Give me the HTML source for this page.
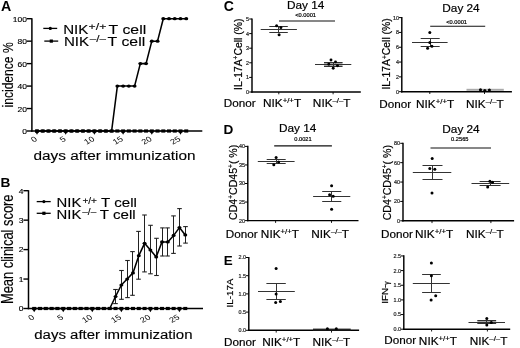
<!DOCTYPE html>
<html><head><meta charset="utf-8"><style>
html,body{margin:0;padding:0;background:#fff;width:520px;height:348px;overflow:hidden}
svg{display:block;will-change:transform}
text{font-family:"Liberation Sans",sans-serif}
</style></head><body>
<svg width="520" height="348" viewBox="0 0 520 348">
<rect width="520" height="348" fill="#fff"/>
<text transform="translate(1.00,10.80)" font-size="14.2" text-anchor="start" fill="#000" font-weight="bold">A</text>
<line x1="31.90" y1="18.20" x2="31.90" y2="131.75" stroke="#000" stroke-width="1.5"/>
<line x1="31.15" y1="131.00" x2="202.30" y2="131.00" stroke="#000" stroke-width="1.5"/>
<line x1="26.80" y1="131.00" x2="31.90" y2="131.00" stroke="#000" stroke-width="1.4"/>
<text transform="translate(27.00,134.00) scale(1.35,1)" font-size="6.3" text-anchor="end" fill="#000" stroke="#000" stroke-width="0.12">0</text>
<line x1="26.80" y1="108.54" x2="31.90" y2="108.54" stroke="#000" stroke-width="1.4"/>
<text transform="translate(27.00,111.54) scale(1.35,1)" font-size="6.3" text-anchor="end" fill="#000" stroke="#000" stroke-width="0.12">20</text>
<line x1="26.80" y1="86.08" x2="31.90" y2="86.08" stroke="#000" stroke-width="1.4"/>
<text transform="translate(27.00,89.08) scale(1.35,1)" font-size="6.3" text-anchor="end" fill="#000" stroke="#000" stroke-width="0.12">40</text>
<line x1="26.80" y1="63.62" x2="31.90" y2="63.62" stroke="#000" stroke-width="1.4"/>
<text transform="translate(27.00,66.62) scale(1.35,1)" font-size="6.3" text-anchor="end" fill="#000" stroke="#000" stroke-width="0.12">60</text>
<line x1="26.80" y1="41.16" x2="31.90" y2="41.16" stroke="#000" stroke-width="1.4"/>
<text transform="translate(27.00,44.16) scale(1.35,1)" font-size="6.3" text-anchor="end" fill="#000" stroke="#000" stroke-width="0.12">80</text>
<line x1="26.80" y1="18.70" x2="31.90" y2="18.70" stroke="#000" stroke-width="1.4"/>
<text transform="translate(27.00,21.70) scale(1.35,1)" font-size="6.3" text-anchor="end" fill="#000" stroke="#000" stroke-width="0.12">100</text>
<polygon points="35.40,132.00 38.60,132.00 37.00,134.80" fill="#000"/>
<text transform="translate(37.80,140.30) scale(1.25,1) rotate(-33)" font-size="7.4" text-anchor="end" fill="#000">0</text>
<polygon points="64.10,132.00 67.30,132.00 65.70,134.80" fill="#000"/>
<text transform="translate(66.50,140.30) scale(1.25,1) rotate(-33)" font-size="7.4" text-anchor="end" fill="#000">5</text>
<polygon points="92.80,132.00 96.00,132.00 94.40,134.80" fill="#000"/>
<text transform="translate(95.20,140.30) scale(1.25,1) rotate(-33)" font-size="7.4" text-anchor="end" fill="#000">10</text>
<polygon points="121.50,132.00 124.70,132.00 123.10,134.80" fill="#000"/>
<text transform="translate(123.90,140.30) scale(1.25,1) rotate(-33)" font-size="7.4" text-anchor="end" fill="#000">15</text>
<polygon points="150.20,132.00 153.40,132.00 151.80,134.80" fill="#000"/>
<text transform="translate(152.60,140.30) scale(1.25,1) rotate(-33)" font-size="7.4" text-anchor="end" fill="#000">20</text>
<polygon points="178.90,132.00 182.10,132.00 180.50,134.80" fill="#000"/>
<text transform="translate(181.30,140.30) scale(1.25,1) rotate(-33)" font-size="7.4" text-anchor="end" fill="#000">25</text>
<text transform="translate(33.50,160.00) scale(1.28,1)" font-size="12.0" text-anchor="start" fill="#000" stroke="#000" stroke-width="0.12">days after immunization</text>
<text transform="translate(12.60,107.50) scale(1.25,1) rotate(-90)" font-size="12.1" text-anchor="start" fill="#000" stroke="#000" stroke-width="0.12">incidence %</text>
<line x1="37.00" y1="131.00" x2="186.24" y2="131.00" stroke="#000" stroke-width="1.2"/>
<polyline points="37.00,131.00 42.74,131.00 48.48,131.00 54.22,131.00 59.96,131.00 65.70,131.00 71.44,131.00 77.18,131.00 82.92,131.00 88.66,131.00 94.40,131.00 100.14,131.00 105.88,131.00 111.62,131.00 117.36,86.08 123.10,86.08 128.84,86.08 134.58,86.08 140.32,63.62 146.06,63.62 151.80,41.16 157.54,41.16 163.28,18.70 169.02,18.70 174.76,18.70 180.50,18.70 186.24,18.70" fill="none" stroke="#000" stroke-width="1.55" stroke-linejoin="round"/>
<ellipse cx="37.00" cy="131.00" rx="2.0" ry="1.6" fill="#000"/>
<ellipse cx="42.74" cy="131.00" rx="2.0" ry="1.6" fill="#000"/>
<ellipse cx="48.48" cy="131.00" rx="2.0" ry="1.6" fill="#000"/>
<ellipse cx="54.22" cy="131.00" rx="2.0" ry="1.6" fill="#000"/>
<ellipse cx="59.96" cy="131.00" rx="2.0" ry="1.6" fill="#000"/>
<ellipse cx="65.70" cy="131.00" rx="2.0" ry="1.6" fill="#000"/>
<ellipse cx="71.44" cy="131.00" rx="2.0" ry="1.6" fill="#000"/>
<ellipse cx="77.18" cy="131.00" rx="2.0" ry="1.6" fill="#000"/>
<ellipse cx="82.92" cy="131.00" rx="2.0" ry="1.6" fill="#000"/>
<ellipse cx="88.66" cy="131.00" rx="2.0" ry="1.6" fill="#000"/>
<ellipse cx="94.40" cy="131.00" rx="2.0" ry="1.6" fill="#000"/>
<ellipse cx="100.14" cy="131.00" rx="2.0" ry="1.6" fill="#000"/>
<ellipse cx="105.88" cy="131.00" rx="2.0" ry="1.6" fill="#000"/>
<ellipse cx="111.62" cy="131.00" rx="2.0" ry="1.6" fill="#000"/>
<ellipse cx="117.36" cy="86.08" rx="2.0" ry="1.6" fill="#000"/>
<ellipse cx="123.10" cy="86.08" rx="2.0" ry="1.6" fill="#000"/>
<ellipse cx="128.84" cy="86.08" rx="2.0" ry="1.6" fill="#000"/>
<ellipse cx="134.58" cy="86.08" rx="2.0" ry="1.6" fill="#000"/>
<ellipse cx="140.32" cy="63.62" rx="2.0" ry="1.6" fill="#000"/>
<ellipse cx="146.06" cy="63.62" rx="2.0" ry="1.6" fill="#000"/>
<ellipse cx="151.80" cy="41.16" rx="2.0" ry="1.6" fill="#000"/>
<ellipse cx="157.54" cy="41.16" rx="2.0" ry="1.6" fill="#000"/>
<ellipse cx="163.28" cy="18.70" rx="2.0" ry="1.6" fill="#000"/>
<ellipse cx="169.02" cy="18.70" rx="2.0" ry="1.6" fill="#000"/>
<ellipse cx="174.76" cy="18.70" rx="2.0" ry="1.6" fill="#000"/>
<ellipse cx="180.50" cy="18.70" rx="2.0" ry="1.6" fill="#000"/>
<ellipse cx="186.24" cy="18.70" rx="2.0" ry="1.6" fill="#000"/>
<rect x="35.00" y="129.40" width="4.0" height="3.2" fill="#000"/>
<rect x="40.74" y="129.40" width="4.0" height="3.2" fill="#000"/>
<rect x="46.48" y="129.40" width="4.0" height="3.2" fill="#000"/>
<rect x="52.22" y="129.40" width="4.0" height="3.2" fill="#000"/>
<rect x="57.96" y="129.40" width="4.0" height="3.2" fill="#000"/>
<rect x="63.70" y="129.40" width="4.0" height="3.2" fill="#000"/>
<rect x="69.44" y="129.40" width="4.0" height="3.2" fill="#000"/>
<rect x="75.18" y="129.40" width="4.0" height="3.2" fill="#000"/>
<rect x="80.92" y="129.40" width="4.0" height="3.2" fill="#000"/>
<rect x="86.66" y="129.40" width="4.0" height="3.2" fill="#000"/>
<rect x="92.40" y="129.40" width="4.0" height="3.2" fill="#000"/>
<rect x="98.14" y="129.40" width="4.0" height="3.2" fill="#000"/>
<rect x="103.88" y="129.40" width="4.0" height="3.2" fill="#000"/>
<rect x="109.62" y="129.40" width="4.0" height="3.2" fill="#000"/>
<rect x="115.36" y="129.40" width="4.0" height="3.2" fill="#000"/>
<rect x="121.10" y="129.40" width="4.0" height="3.2" fill="#000"/>
<rect x="126.84" y="129.40" width="4.0" height="3.2" fill="#000"/>
<rect x="132.58" y="129.40" width="4.0" height="3.2" fill="#000"/>
<rect x="138.32" y="129.40" width="4.0" height="3.2" fill="#000"/>
<rect x="144.06" y="129.40" width="4.0" height="3.2" fill="#000"/>
<rect x="149.80" y="129.40" width="4.0" height="3.2" fill="#000"/>
<rect x="155.54" y="129.40" width="4.0" height="3.2" fill="#000"/>
<rect x="161.28" y="129.40" width="4.0" height="3.2" fill="#000"/>
<rect x="167.02" y="129.40" width="4.0" height="3.2" fill="#000"/>
<rect x="172.76" y="129.40" width="4.0" height="3.2" fill="#000"/>
<rect x="178.50" y="129.40" width="4.0" height="3.2" fill="#000"/>
<rect x="184.24" y="129.40" width="4.0" height="3.2" fill="#000"/>
<line x1="43.30" y1="28.40" x2="57.20" y2="28.40" stroke="#000" stroke-width="1.3"/>
<circle cx="50.30" cy="28.40" r="1.6" fill="#000"/>
<line x1="44.30" y1="41.10" x2="58.20" y2="41.10" stroke="#000" stroke-width="1.3"/>
<rect x="49.70" y="39.50" width="3.2" height="3.2" fill="#000"/>
<text transform="translate(63.20,33.90) scale(1.22,1)" font-size="12.4" text-anchor="start" fill="#000" stroke="#000" stroke-width="0.12">NIK</text>
<text transform="translate(88.60,30.00) scale(1.36,1)" font-size="9.0" text-anchor="start" fill="#000" stroke="#000" stroke-width="0.12">+/+</text>
<text transform="translate(108.60,33.90) scale(1.28,1)" font-size="12.4" text-anchor="start" fill="#000" stroke="#000" stroke-width="0.12">T cell</text>
<text transform="translate(63.90,46.40) scale(1.22,1)" font-size="12.4" text-anchor="start" fill="#000" stroke="#000" stroke-width="0.12">NIK</text>
<text transform="translate(89.80,42.40) scale(1.3,1)" font-size="9.0" text-anchor="start" fill="#000" stroke="#000" stroke-width="0.12">&#8211;/&#8211;</text>
<text transform="translate(107.60,46.40) scale(1.28,1)" font-size="12.4" text-anchor="start" fill="#000" stroke="#000" stroke-width="0.12">T cell</text>
<text transform="translate(0.60,187.20)" font-size="13.7" text-anchor="start" fill="#000" font-weight="bold">B</text>
<line x1="28.50" y1="190.20" x2="28.50" y2="309.25" stroke="#000" stroke-width="1.5"/>
<line x1="27.75" y1="308.50" x2="203.00" y2="308.50" stroke="#000" stroke-width="1.5"/>
<line x1="23.40" y1="308.50" x2="28.50" y2="308.50" stroke="#000" stroke-width="1.4"/>
<text transform="translate(23.40,311.30) scale(1.35,1)" font-size="6.3" text-anchor="end" fill="#000" stroke="#000" stroke-width="0.12">0</text>
<line x1="23.40" y1="279.05" x2="28.50" y2="279.05" stroke="#000" stroke-width="1.4"/>
<text transform="translate(23.40,281.85) scale(1.35,1)" font-size="6.3" text-anchor="end" fill="#000" stroke="#000" stroke-width="0.12">1</text>
<line x1="23.40" y1="249.60" x2="28.50" y2="249.60" stroke="#000" stroke-width="1.4"/>
<text transform="translate(23.40,252.40) scale(1.35,1)" font-size="6.3" text-anchor="end" fill="#000" stroke="#000" stroke-width="0.12">2</text>
<line x1="23.40" y1="220.15" x2="28.50" y2="220.15" stroke="#000" stroke-width="1.4"/>
<text transform="translate(23.40,222.95) scale(1.35,1)" font-size="6.3" text-anchor="end" fill="#000" stroke="#000" stroke-width="0.12">3</text>
<line x1="23.40" y1="190.70" x2="28.50" y2="190.70" stroke="#000" stroke-width="1.4"/>
<text transform="translate(23.40,193.50) scale(1.35,1)" font-size="6.3" text-anchor="end" fill="#000" stroke="#000" stroke-width="0.12">4</text>
<polygon points="32.60,309.50 35.80,309.50 34.20,312.30" fill="#000"/>
<text transform="translate(35.00,318.50) scale(1.25,1) rotate(-33)" font-size="7.4" text-anchor="end" fill="#000">0</text>
<polygon points="61.65,309.50 64.85,309.50 63.25,312.30" fill="#000"/>
<text transform="translate(64.05,318.50) scale(1.25,1) rotate(-33)" font-size="7.4" text-anchor="end" fill="#000">5</text>
<polygon points="90.70,309.50 93.90,309.50 92.30,312.30" fill="#000"/>
<text transform="translate(93.10,318.50) scale(1.25,1) rotate(-33)" font-size="7.4" text-anchor="end" fill="#000">10</text>
<polygon points="119.75,309.50 122.95,309.50 121.35,312.30" fill="#000"/>
<text transform="translate(122.15,318.50) scale(1.25,1) rotate(-33)" font-size="7.4" text-anchor="end" fill="#000">15</text>
<polygon points="148.80,309.50 152.00,309.50 150.40,312.30" fill="#000"/>
<text transform="translate(151.20,318.50) scale(1.25,1) rotate(-33)" font-size="7.4" text-anchor="end" fill="#000">20</text>
<polygon points="177.85,309.50 181.05,309.50 179.45,312.30" fill="#000"/>
<text transform="translate(180.25,318.50) scale(1.25,1) rotate(-33)" font-size="7.4" text-anchor="end" fill="#000">25</text>
<text transform="translate(34.20,338.70) scale(1.25,1)" font-size="12.0" text-anchor="start" fill="#000" stroke="#000" stroke-width="0.12">days after immunization</text>
<text transform="translate(12.90,304.10) scale(1.25,1) rotate(-90)" font-size="12.9" text-anchor="start" fill="#000" stroke="#000" stroke-width="0.12">Mean clinical score</text>
<line x1="34.20" y1="308.50" x2="185.26" y2="308.50" stroke="#000" stroke-width="1.2"/>
<line x1="115.50" y1="289.50" x2="115.50" y2="303.60" stroke="#222" stroke-width="1.0"/>
<line x1="113.20" y1="289.50" x2="117.80" y2="289.50" stroke="#222" stroke-width="1.1"/>
<line x1="113.20" y1="303.60" x2="117.80" y2="303.60" stroke="#222" stroke-width="1.1"/>
<line x1="121.50" y1="270.50" x2="121.50" y2="299.30" stroke="#222" stroke-width="1.0"/>
<line x1="119.20" y1="270.50" x2="123.80" y2="270.50" stroke="#222" stroke-width="1.1"/>
<line x1="119.20" y1="299.30" x2="123.80" y2="299.30" stroke="#222" stroke-width="1.1"/>
<line x1="127.50" y1="260.50" x2="127.50" y2="297.60" stroke="#222" stroke-width="1.0"/>
<line x1="125.20" y1="260.50" x2="129.80" y2="260.50" stroke="#222" stroke-width="1.1"/>
<line x1="125.20" y1="297.60" x2="129.80" y2="297.60" stroke="#222" stroke-width="1.1"/>
<line x1="132.50" y1="251.60" x2="132.50" y2="295.30" stroke="#222" stroke-width="1.0"/>
<line x1="130.20" y1="251.60" x2="134.80" y2="251.60" stroke="#222" stroke-width="1.1"/>
<line x1="130.20" y1="295.30" x2="134.80" y2="295.30" stroke="#222" stroke-width="1.1"/>
<line x1="138.50" y1="231.40" x2="138.50" y2="279.20" stroke="#222" stroke-width="1.0"/>
<line x1="136.20" y1="231.40" x2="140.80" y2="231.40" stroke="#222" stroke-width="1.1"/>
<line x1="136.20" y1="279.20" x2="140.80" y2="279.20" stroke="#222" stroke-width="1.1"/>
<line x1="144.50" y1="215.00" x2="144.50" y2="271.90" stroke="#222" stroke-width="1.0"/>
<line x1="142.20" y1="215.00" x2="146.80" y2="215.00" stroke="#222" stroke-width="1.1"/>
<line x1="142.20" y1="271.90" x2="146.80" y2="271.90" stroke="#222" stroke-width="1.1"/>
<line x1="150.50" y1="225.30" x2="150.50" y2="273.80" stroke="#222" stroke-width="1.0"/>
<line x1="148.20" y1="225.30" x2="152.80" y2="225.30" stroke="#222" stroke-width="1.1"/>
<line x1="148.20" y1="273.80" x2="152.80" y2="273.80" stroke="#222" stroke-width="1.1"/>
<line x1="156.50" y1="238.30" x2="156.50" y2="275.50" stroke="#222" stroke-width="1.0"/>
<line x1="154.20" y1="238.30" x2="158.80" y2="238.30" stroke="#222" stroke-width="1.1"/>
<line x1="154.20" y1="275.50" x2="158.80" y2="275.50" stroke="#222" stroke-width="1.1"/>
<line x1="162.50" y1="227.90" x2="162.50" y2="256.00" stroke="#222" stroke-width="1.0"/>
<line x1="160.20" y1="227.90" x2="164.80" y2="227.90" stroke="#222" stroke-width="1.1"/>
<line x1="160.20" y1="256.00" x2="164.80" y2="256.00" stroke="#222" stroke-width="1.1"/>
<line x1="167.50" y1="227.90" x2="167.50" y2="256.00" stroke="#222" stroke-width="1.0"/>
<line x1="165.20" y1="227.90" x2="169.80" y2="227.90" stroke="#222" stroke-width="1.1"/>
<line x1="165.20" y1="256.00" x2="169.80" y2="256.00" stroke="#222" stroke-width="1.1"/>
<line x1="173.50" y1="215.90" x2="173.50" y2="253.40" stroke="#222" stroke-width="1.0"/>
<line x1="171.20" y1="215.90" x2="175.80" y2="215.90" stroke="#222" stroke-width="1.1"/>
<line x1="171.20" y1="253.40" x2="175.80" y2="253.40" stroke="#222" stroke-width="1.1"/>
<line x1="179.50" y1="208.60" x2="179.50" y2="246.00" stroke="#222" stroke-width="1.0"/>
<line x1="177.20" y1="208.60" x2="181.80" y2="208.60" stroke="#222" stroke-width="1.1"/>
<line x1="177.20" y1="246.00" x2="181.80" y2="246.00" stroke="#222" stroke-width="1.1"/>
<line x1="185.50" y1="226.60" x2="185.50" y2="243.10" stroke="#222" stroke-width="1.0"/>
<line x1="183.20" y1="226.60" x2="187.80" y2="226.60" stroke="#222" stroke-width="1.1"/>
<line x1="183.20" y1="243.10" x2="187.80" y2="243.10" stroke="#222" stroke-width="1.1"/>
<polyline points="34.20,308.50 40.01,308.50 45.82,308.50 51.63,308.50 57.44,308.50 63.25,308.50 69.06,308.50 74.87,308.50 80.68,308.50 86.49,308.50 92.30,308.50 98.11,308.50 103.92,308.50 109.73,308.50 115.54,296.50 121.35,285.00 127.16,279.00 132.97,272.90 138.78,255.70 144.59,243.30 150.40,250.00 156.21,256.90 162.02,241.90 167.83,241.90 173.64,235.40 179.45,227.60 185.26,234.90" fill="none" stroke="#000" stroke-width="1.55" stroke-linejoin="round"/>
<ellipse cx="34.20" cy="308.50" rx="2.0" ry="1.6" fill="#000"/>
<ellipse cx="40.01" cy="308.50" rx="2.0" ry="1.6" fill="#000"/>
<ellipse cx="45.82" cy="308.50" rx="2.0" ry="1.6" fill="#000"/>
<ellipse cx="51.63" cy="308.50" rx="2.0" ry="1.6" fill="#000"/>
<ellipse cx="57.44" cy="308.50" rx="2.0" ry="1.6" fill="#000"/>
<ellipse cx="63.25" cy="308.50" rx="2.0" ry="1.6" fill="#000"/>
<ellipse cx="69.06" cy="308.50" rx="2.0" ry="1.6" fill="#000"/>
<ellipse cx="74.87" cy="308.50" rx="2.0" ry="1.6" fill="#000"/>
<ellipse cx="80.68" cy="308.50" rx="2.0" ry="1.6" fill="#000"/>
<ellipse cx="86.49" cy="308.50" rx="2.0" ry="1.6" fill="#000"/>
<ellipse cx="92.30" cy="308.50" rx="2.0" ry="1.6" fill="#000"/>
<ellipse cx="98.11" cy="308.50" rx="2.0" ry="1.6" fill="#000"/>
<ellipse cx="103.92" cy="308.50" rx="2.0" ry="1.6" fill="#000"/>
<ellipse cx="109.73" cy="308.50" rx="2.0" ry="1.6" fill="#000"/>
<ellipse cx="115.54" cy="296.50" rx="2.0" ry="1.6" fill="#000"/>
<ellipse cx="121.35" cy="285.00" rx="2.0" ry="1.6" fill="#000"/>
<ellipse cx="127.16" cy="279.00" rx="2.0" ry="1.6" fill="#000"/>
<ellipse cx="132.97" cy="272.90" rx="2.0" ry="1.6" fill="#000"/>
<ellipse cx="138.78" cy="255.70" rx="2.0" ry="1.6" fill="#000"/>
<ellipse cx="144.59" cy="243.30" rx="2.0" ry="1.6" fill="#000"/>
<ellipse cx="150.40" cy="250.00" rx="2.0" ry="1.6" fill="#000"/>
<ellipse cx="156.21" cy="256.90" rx="2.0" ry="1.6" fill="#000"/>
<ellipse cx="162.02" cy="241.90" rx="2.0" ry="1.6" fill="#000"/>
<ellipse cx="167.83" cy="241.90" rx="2.0" ry="1.6" fill="#000"/>
<ellipse cx="173.64" cy="235.40" rx="2.0" ry="1.6" fill="#000"/>
<ellipse cx="179.45" cy="227.60" rx="2.0" ry="1.6" fill="#000"/>
<ellipse cx="185.26" cy="234.90" rx="2.0" ry="1.6" fill="#000"/>
<rect x="32.20" y="306.90" width="4.0" height="3.2" fill="#000"/>
<rect x="38.01" y="306.90" width="4.0" height="3.2" fill="#000"/>
<rect x="43.82" y="306.90" width="4.0" height="3.2" fill="#000"/>
<rect x="49.63" y="306.90" width="4.0" height="3.2" fill="#000"/>
<rect x="55.44" y="306.90" width="4.0" height="3.2" fill="#000"/>
<rect x="61.25" y="306.90" width="4.0" height="3.2" fill="#000"/>
<rect x="67.06" y="306.90" width="4.0" height="3.2" fill="#000"/>
<rect x="72.87" y="306.90" width="4.0" height="3.2" fill="#000"/>
<rect x="78.68" y="306.90" width="4.0" height="3.2" fill="#000"/>
<rect x="84.49" y="306.90" width="4.0" height="3.2" fill="#000"/>
<rect x="90.30" y="306.90" width="4.0" height="3.2" fill="#000"/>
<rect x="96.11" y="306.90" width="4.0" height="3.2" fill="#000"/>
<rect x="101.92" y="306.90" width="4.0" height="3.2" fill="#000"/>
<rect x="107.73" y="306.90" width="4.0" height="3.2" fill="#000"/>
<rect x="113.54" y="306.90" width="4.0" height="3.2" fill="#000"/>
<rect x="119.35" y="306.90" width="4.0" height="3.2" fill="#000"/>
<rect x="125.16" y="306.90" width="4.0" height="3.2" fill="#000"/>
<rect x="130.97" y="306.90" width="4.0" height="3.2" fill="#000"/>
<rect x="136.78" y="306.90" width="4.0" height="3.2" fill="#000"/>
<rect x="142.59" y="306.90" width="4.0" height="3.2" fill="#000"/>
<rect x="148.40" y="306.90" width="4.0" height="3.2" fill="#000"/>
<rect x="154.21" y="306.90" width="4.0" height="3.2" fill="#000"/>
<rect x="160.02" y="306.90" width="4.0" height="3.2" fill="#000"/>
<rect x="165.83" y="306.90" width="4.0" height="3.2" fill="#000"/>
<rect x="171.64" y="306.90" width="4.0" height="3.2" fill="#000"/>
<rect x="177.45" y="306.90" width="4.0" height="3.2" fill="#000"/>
<rect x="183.26" y="306.90" width="4.0" height="3.2" fill="#000"/>
<line x1="36.70" y1="201.60" x2="50.70" y2="201.60" stroke="#000" stroke-width="1.3"/>
<circle cx="43.90" cy="201.60" r="1.6" fill="#000"/>
<line x1="36.70" y1="213.30" x2="50.70" y2="213.30" stroke="#000" stroke-width="1.3"/>
<rect x="42.30" y="211.70" width="3.2" height="3.2" fill="#000"/>
<text transform="translate(56.60,207.40) scale(1.2,1)" font-size="12.4" text-anchor="start" fill="#000" stroke="#000" stroke-width="0.12">NIK</text>
<text transform="translate(82.40,203.60) scale(1.22,1)" font-size="8.3" text-anchor="start" fill="#000" stroke="#000" stroke-width="0.12">+/+</text>
<text transform="translate(101.00,207.40) scale(1.22,1)" font-size="12.4" text-anchor="start" fill="#000" stroke="#000" stroke-width="0.12">T cell</text>
<text transform="translate(56.60,219.10) scale(1.2,1)" font-size="12.4" text-anchor="start" fill="#000" stroke="#000" stroke-width="0.12">NIK</text>
<text transform="translate(82.20,214.80) scale(1.22,1)" font-size="8.3" text-anchor="start" fill="#000" stroke="#000" stroke-width="0.12">&#8211;/&#8211;</text>
<text transform="translate(99.80,219.10) scale(1.22,1)" font-size="12.4" text-anchor="start" fill="#000" stroke="#000" stroke-width="0.12">T cell</text>
<text transform="translate(223.80,11.00)" font-size="14.0" text-anchor="start" fill="#000" font-weight="bold">C</text>
<line x1="252.00" y1="18.40" x2="252.00" y2="92.70" stroke="#000" stroke-width="1.45"/>
<line x1="251.30" y1="92.00" x2="360.80" y2="92.00" stroke="#000" stroke-width="1.45"/>
<line x1="249.20" y1="92.00" x2="252.00" y2="92.00" stroke="#000" stroke-width="1.0"/>
<text transform="translate(249.10,93.90)" font-size="5.4" text-anchor="end" fill="#222" stroke="#222" stroke-width="0.2">0</text>
<line x1="249.20" y1="77.40" x2="252.00" y2="77.40" stroke="#000" stroke-width="1.0"/>
<text transform="translate(249.10,79.30)" font-size="5.4" text-anchor="end" fill="#222" stroke="#222" stroke-width="0.2">1</text>
<line x1="249.20" y1="62.80" x2="252.00" y2="62.80" stroke="#000" stroke-width="1.0"/>
<text transform="translate(249.10,64.70)" font-size="5.4" text-anchor="end" fill="#222" stroke="#222" stroke-width="0.2">2</text>
<line x1="249.20" y1="48.20" x2="252.00" y2="48.20" stroke="#000" stroke-width="1.0"/>
<text transform="translate(249.10,50.10)" font-size="5.4" text-anchor="end" fill="#222" stroke="#222" stroke-width="0.2">3</text>
<line x1="249.20" y1="33.60" x2="252.00" y2="33.60" stroke="#000" stroke-width="1.0"/>
<text transform="translate(249.10,35.50)" font-size="5.4" text-anchor="end" fill="#222" stroke="#222" stroke-width="0.2">4</text>
<line x1="249.20" y1="19.00" x2="252.00" y2="19.00" stroke="#000" stroke-width="1.0"/>
<text transform="translate(249.10,20.90)" font-size="5.4" text-anchor="end" fill="#222" stroke="#222" stroke-width="0.2">5</text>
<line x1="278.80" y1="92.00" x2="278.80" y2="94.30" stroke="#000" stroke-width="0.9"/>
<line x1="333.10" y1="92.00" x2="333.10" y2="94.30" stroke="#000" stroke-width="0.9"/>
<line x1="260.70" y1="29.50" x2="296.90" y2="29.50" stroke="#333" stroke-width="1.0"/>
<line x1="269.30" y1="26.50" x2="287.80" y2="26.50" stroke="#333" stroke-width="1.0"/>
<line x1="269.30" y1="32.50" x2="287.80" y2="32.50" stroke="#333" stroke-width="1.0"/>
<line x1="278.50" y1="26.50" x2="278.50" y2="32.50" stroke="#333" stroke-width="1.0"/>
<circle cx="276.60" cy="25.70" r="1.5" fill="#000"/>
<circle cx="280.90" cy="27.60" r="1.5" fill="#000"/>
<circle cx="279.10" cy="34.80" r="1.5" fill="#000"/>
<rect x="324.0" y="62.1" width="18.50" height="4.40" fill="#aaa"/>
<line x1="315.00" y1="64.50" x2="351.30" y2="64.50" stroke="#333" stroke-width="1.0"/>
<line x1="324.00" y1="62.50" x2="342.50" y2="62.50" stroke="#333" stroke-width="1.0"/>
<line x1="324.00" y1="66.50" x2="342.50" y2="66.50" stroke="#333" stroke-width="1.0"/>
<line x1="333.50" y1="62.50" x2="333.50" y2="66.50" stroke="#333" stroke-width="1.0"/>
<circle cx="331.00" cy="60.00" r="1.45" fill="#000"/>
<circle cx="335.50" cy="61.90" r="1.45" fill="#000"/>
<circle cx="328.80" cy="64.25" r="1.45" fill="#000"/>
<circle cx="337.50" cy="65.75" r="1.45" fill="#000"/>
<circle cx="333.20" cy="68.25" r="1.45" fill="#000"/>
<text transform="translate(287.00,9.20)" font-size="11.8" text-anchor="start" fill="#000" stroke="#000" stroke-width="0.2">Day 14</text>
<text transform="translate(295.30,17.30)" font-size="5.7" text-anchor="start" fill="#000" stroke="#000" stroke-width="0.2">&lt;0.0001</text>
<line x1="279.00" y1="21.00" x2="335.00" y2="21.00" stroke="#111" stroke-width="1.15"/>
<text transform="translate(223.76,107.30)" font-size="11.7" text-anchor="start" fill="#000" stroke="#000" stroke-width="0.2">Donor</text>
<text transform="translate(262.96,107.40)" font-size="11.8" text-anchor="start" fill="#000" stroke="#000" stroke-width="0.2">NIK</text>
<text transform="translate(282.63,103.40)" font-size="7.8" text-anchor="start" fill="#000" stroke="#000" stroke-width="0.2">+/+</text>
<text transform="translate(293.91,107.40)" font-size="11.8" text-anchor="start" fill="#000" stroke="#000" stroke-width="0.2">T</text>
<text transform="translate(312.86,107.40)" font-size="11.8" text-anchor="start" fill="#000" stroke="#000" stroke-width="0.2">NIK</text>
<text transform="translate(332.53,103.40)" font-size="7.8" text-anchor="start" fill="#000" stroke="#000" stroke-width="0.2">&#8211;/&#8211;</text>
<text transform="translate(343.37,107.40)" font-size="11.8" text-anchor="start" fill="#000" stroke="#000" stroke-width="0.2">T</text>
<line x1="401.80" y1="17.00" x2="401.80" y2="92.40" stroke="#000" stroke-width="1.45"/>
<line x1="401.10" y1="91.70" x2="511.90" y2="91.70" stroke="#000" stroke-width="1.45"/>
<line x1="399.00" y1="91.70" x2="401.80" y2="91.70" stroke="#000" stroke-width="1.0"/>
<text transform="translate(398.90,93.60)" font-size="5.4" text-anchor="end" fill="#222" stroke="#222" stroke-width="0.2">0</text>
<line x1="399.00" y1="76.88" x2="401.80" y2="76.88" stroke="#000" stroke-width="1.0"/>
<text transform="translate(398.90,78.78)" font-size="5.4" text-anchor="end" fill="#222" stroke="#222" stroke-width="0.2">2</text>
<line x1="399.00" y1="62.06" x2="401.80" y2="62.06" stroke="#000" stroke-width="1.0"/>
<text transform="translate(398.90,63.96)" font-size="5.4" text-anchor="end" fill="#222" stroke="#222" stroke-width="0.2">4</text>
<line x1="399.00" y1="47.24" x2="401.80" y2="47.24" stroke="#000" stroke-width="1.0"/>
<text transform="translate(398.90,49.14)" font-size="5.4" text-anchor="end" fill="#222" stroke="#222" stroke-width="0.2">6</text>
<line x1="399.00" y1="32.42" x2="401.80" y2="32.42" stroke="#000" stroke-width="1.0"/>
<text transform="translate(398.90,34.32)" font-size="5.4" text-anchor="end" fill="#222" stroke="#222" stroke-width="0.2">8</text>
<line x1="399.00" y1="17.60" x2="401.80" y2="17.60" stroke="#000" stroke-width="1.0"/>
<text transform="translate(398.90,19.50)" font-size="5.4" text-anchor="end" fill="#222" stroke="#222" stroke-width="0.2">10</text>
<line x1="429.80" y1="91.70" x2="429.80" y2="94.00" stroke="#000" stroke-width="0.9"/>
<line x1="484.50" y1="91.70" x2="484.50" y2="94.00" stroke="#000" stroke-width="0.9"/>
<line x1="412.00" y1="42.50" x2="447.60" y2="42.50" stroke="#333" stroke-width="1.0"/>
<line x1="420.70" y1="38.50" x2="439.70" y2="38.50" stroke="#333" stroke-width="1.0"/>
<line x1="420.70" y1="46.50" x2="439.70" y2="46.50" stroke="#333" stroke-width="1.0"/>
<line x1="430.50" y1="38.50" x2="430.50" y2="46.50" stroke="#333" stroke-width="1.0"/>
<circle cx="429.80" cy="32.40" r="1.5" fill="#000"/>
<circle cx="429.80" cy="42.60" r="1.5" fill="#000"/>
<circle cx="431.90" cy="46.20" r="1.5" fill="#000"/>
<circle cx="427.60" cy="48.30" r="1.5" fill="#000"/>
<rect x="466.5" y="88.8" width="37.30" height="2.00" fill="#aaa"/>
<circle cx="480.50" cy="89.80" r="1.55" fill="#000"/>
<circle cx="484.80" cy="90.50" r="1.55" fill="#000"/>
<circle cx="489.40" cy="90.00" r="1.55" fill="#000"/>
<text transform="translate(442.30,12.10)" font-size="11.8" text-anchor="start" fill="#000" stroke="#000" stroke-width="0.2">Day 24</text>
<text transform="translate(446.30,23.60)" font-size="5.7" text-anchor="start" fill="#000" stroke="#000" stroke-width="0.2">&lt;0.0001</text>
<line x1="430.20" y1="26.20" x2="485.20" y2="26.20" stroke="#111" stroke-width="1.15"/>
<text transform="translate(379.36,107.60)" font-size="11.7" text-anchor="start" fill="#000" stroke="#000" stroke-width="0.2">Donor</text>
<text transform="translate(416.06,107.80)" font-size="11.8" text-anchor="start" fill="#000" stroke="#000" stroke-width="0.2">NIK</text>
<text transform="translate(435.73,103.80)" font-size="7.8" text-anchor="start" fill="#000" stroke="#000" stroke-width="0.2">+/+</text>
<text transform="translate(447.01,107.80)" font-size="11.8" text-anchor="start" fill="#000" stroke="#000" stroke-width="0.2">T</text>
<text transform="translate(466.06,107.80)" font-size="11.8" text-anchor="start" fill="#000" stroke="#000" stroke-width="0.2">NIK</text>
<text transform="translate(485.73,103.80)" font-size="7.8" text-anchor="start" fill="#000" stroke="#000" stroke-width="0.2">&#8211;/&#8211;</text>
<text transform="translate(496.57,107.80)" font-size="11.8" text-anchor="start" fill="#000" stroke="#000" stroke-width="0.2">T</text>
<text transform="translate(223.60,133.60)" font-size="13.6" text-anchor="start" fill="#000" font-weight="bold">D</text>
<line x1="247.80" y1="145.80" x2="247.80" y2="221.30" stroke="#000" stroke-width="1.45"/>
<line x1="247.10" y1="220.60" x2="358.50" y2="220.60" stroke="#000" stroke-width="1.45"/>
<line x1="245.00" y1="220.60" x2="247.80" y2="220.60" stroke="#000" stroke-width="1.0"/>
<text transform="translate(244.90,222.50)" font-size="5.4" text-anchor="end" fill="#222" stroke="#222" stroke-width="0.2">20</text>
<line x1="245.00" y1="202.05" x2="247.80" y2="202.05" stroke="#000" stroke-width="1.0"/>
<text transform="translate(244.90,203.95)" font-size="5.4" text-anchor="end" fill="#222" stroke="#222" stroke-width="0.2">25</text>
<line x1="245.00" y1="183.50" x2="247.80" y2="183.50" stroke="#000" stroke-width="1.0"/>
<text transform="translate(244.90,185.40)" font-size="5.4" text-anchor="end" fill="#222" stroke="#222" stroke-width="0.2">30</text>
<line x1="245.00" y1="164.95" x2="247.80" y2="164.95" stroke="#000" stroke-width="1.0"/>
<text transform="translate(244.90,166.85)" font-size="5.4" text-anchor="end" fill="#222" stroke="#222" stroke-width="0.2">35</text>
<line x1="245.00" y1="146.40" x2="247.80" y2="146.40" stroke="#000" stroke-width="1.0"/>
<text transform="translate(244.90,148.30)" font-size="5.4" text-anchor="end" fill="#222" stroke="#222" stroke-width="0.2">40</text>
<line x1="275.60" y1="220.60" x2="275.60" y2="222.90" stroke="#000" stroke-width="0.9"/>
<line x1="331.50" y1="220.60" x2="331.50" y2="222.90" stroke="#000" stroke-width="0.9"/>
<line x1="257.80" y1="161.50" x2="294.60" y2="161.50" stroke="#333" stroke-width="1.0"/>
<line x1="266.70" y1="159.50" x2="285.70" y2="159.50" stroke="#333" stroke-width="1.0"/>
<line x1="266.70" y1="163.50" x2="285.70" y2="163.50" stroke="#333" stroke-width="1.0"/>
<line x1="276.50" y1="159.50" x2="276.50" y2="163.50" stroke="#333" stroke-width="1.0"/>
<circle cx="276.10" cy="157.50" r="1.5" fill="#000"/>
<circle cx="278.60" cy="162.10" r="1.5" fill="#000"/>
<circle cx="273.80" cy="164.70" r="1.5" fill="#000"/>
<line x1="313.10" y1="196.50" x2="350.30" y2="196.50" stroke="#333" stroke-width="1.0"/>
<line x1="322.20" y1="191.50" x2="341.30" y2="191.50" stroke="#333" stroke-width="1.0"/>
<line x1="322.20" y1="201.50" x2="341.30" y2="201.50" stroke="#333" stroke-width="1.0"/>
<line x1="331.50" y1="191.50" x2="331.50" y2="201.50" stroke="#333" stroke-width="1.0"/>
<circle cx="331.60" cy="185.70" r="1.5" fill="#000"/>
<circle cx="329.60" cy="194.80" r="1.5" fill="#000"/>
<circle cx="333.20" cy="196.20" r="1.5" fill="#000"/>
<circle cx="331.60" cy="209.20" r="1.5" fill="#000"/>
<text transform="translate(279.00,132.00)" font-size="11.8" text-anchor="start" fill="#000" stroke="#000" stroke-width="0.2">Day 14</text>
<text transform="translate(294.30,141.00)" font-size="5.7" text-anchor="start" fill="#000" stroke="#000" stroke-width="0.2">0.0021</text>
<line x1="274.20" y1="145.80" x2="331.90" y2="145.80" stroke="#111" stroke-width="1.15"/>
<text transform="translate(225.76,237.50)" font-size="11.7" text-anchor="start" fill="#000" stroke="#000" stroke-width="0.2">Donor</text>
<text transform="translate(260.86,237.80)" font-size="11.8" text-anchor="start" fill="#000" stroke="#000" stroke-width="0.2">NIK</text>
<text transform="translate(280.53,233.80)" font-size="7.8" text-anchor="start" fill="#000" stroke="#000" stroke-width="0.2">+/+</text>
<text transform="translate(291.81,237.80)" font-size="11.8" text-anchor="start" fill="#000" stroke="#000" stroke-width="0.2">T</text>
<text transform="translate(311.26,237.80)" font-size="11.8" text-anchor="start" fill="#000" stroke="#000" stroke-width="0.2">NIK</text>
<text transform="translate(330.93,233.80)" font-size="7.8" text-anchor="start" fill="#000" stroke="#000" stroke-width="0.2">&#8211;/&#8211;</text>
<text transform="translate(341.77,237.80)" font-size="11.8" text-anchor="start" fill="#000" stroke="#000" stroke-width="0.2">T</text>
<line x1="403.00" y1="142.70" x2="403.00" y2="221.50" stroke="#000" stroke-width="1.45"/>
<line x1="402.30" y1="220.80" x2="514.10" y2="220.80" stroke="#000" stroke-width="1.45"/>
<line x1="400.20" y1="220.80" x2="403.00" y2="220.80" stroke="#000" stroke-width="1.0"/>
<text transform="translate(400.10,222.70)" font-size="5.4" text-anchor="end" fill="#222" stroke="#222" stroke-width="0.2">0</text>
<line x1="400.20" y1="201.42" x2="403.00" y2="201.42" stroke="#000" stroke-width="1.0"/>
<text transform="translate(400.10,203.32)" font-size="5.4" text-anchor="end" fill="#222" stroke="#222" stroke-width="0.2">20</text>
<line x1="400.20" y1="182.05" x2="403.00" y2="182.05" stroke="#000" stroke-width="1.0"/>
<text transform="translate(400.10,183.95)" font-size="5.4" text-anchor="end" fill="#222" stroke="#222" stroke-width="0.2">40</text>
<line x1="400.20" y1="162.67" x2="403.00" y2="162.67" stroke="#000" stroke-width="1.0"/>
<text transform="translate(400.10,164.57)" font-size="5.4" text-anchor="end" fill="#222" stroke="#222" stroke-width="0.2">60</text>
<line x1="400.20" y1="143.30" x2="403.00" y2="143.30" stroke="#000" stroke-width="1.0"/>
<text transform="translate(400.10,145.20)" font-size="5.4" text-anchor="end" fill="#222" stroke="#222" stroke-width="0.2">80</text>
<line x1="432.00" y1="220.80" x2="432.00" y2="223.10" stroke="#000" stroke-width="0.9"/>
<line x1="490.90" y1="220.80" x2="490.90" y2="223.10" stroke="#000" stroke-width="0.9"/>
<line x1="412.80" y1="172.50" x2="451.30" y2="172.50" stroke="#333" stroke-width="1.0"/>
<line x1="422.50" y1="165.50" x2="442.50" y2="165.50" stroke="#333" stroke-width="1.0"/>
<line x1="422.50" y1="179.50" x2="442.50" y2="179.50" stroke="#333" stroke-width="1.0"/>
<line x1="432.50" y1="165.50" x2="432.50" y2="179.50" stroke="#333" stroke-width="1.0"/>
<circle cx="432.20" cy="158.50" r="1.5" fill="#000"/>
<circle cx="429.80" cy="168.40" r="1.5" fill="#000"/>
<circle cx="434.80" cy="169.20" r="1.5" fill="#000"/>
<circle cx="432.00" cy="193.00" r="1.5" fill="#000"/>
<line x1="471.50" y1="183.50" x2="509.20" y2="183.50" stroke="#333" stroke-width="1.0"/>
<line x1="479.60" y1="181.50" x2="500.60" y2="181.50" stroke="#333" stroke-width="1.0"/>
<line x1="479.60" y1="185.50" x2="500.60" y2="185.50" stroke="#333" stroke-width="1.0"/>
<line x1="490.50" y1="181.50" x2="490.50" y2="185.50" stroke="#333" stroke-width="1.0"/>
<circle cx="489.90" cy="181.20" r="1.5" fill="#000"/>
<circle cx="492.50" cy="182.30" r="1.5" fill="#000"/>
<circle cx="487.70" cy="187.10" r="1.5" fill="#000"/>
<text transform="translate(442.30,133.10)" font-size="11.8" text-anchor="start" fill="#000" stroke="#000" stroke-width="0.2">Day 24</text>
<text transform="translate(451.10,141.40)" font-size="5.7" text-anchor="start" fill="#000" stroke="#000" stroke-width="0.2">0.2565</text>
<line x1="430.50" y1="148.00" x2="491.00" y2="148.00" stroke="#111" stroke-width="1.15"/>
<text transform="translate(381.06,238.00)" font-size="11.7" text-anchor="start" fill="#000" stroke="#000" stroke-width="0.2">Donor</text>
<text transform="translate(415.06,238.30)" font-size="11.8" text-anchor="start" fill="#000" stroke="#000" stroke-width="0.2">NIK</text>
<text transform="translate(434.73,234.30)" font-size="7.8" text-anchor="start" fill="#000" stroke="#000" stroke-width="0.2">+/+</text>
<text transform="translate(446.01,238.30)" font-size="11.8" text-anchor="start" fill="#000" stroke="#000" stroke-width="0.2">T</text>
<text transform="translate(465.96,238.40)" font-size="11.8" text-anchor="start" fill="#000" stroke="#000" stroke-width="0.2">NIK</text>
<text transform="translate(485.63,234.40)" font-size="7.8" text-anchor="start" fill="#000" stroke="#000" stroke-width="0.2">&#8211;/&#8211;</text>
<text transform="translate(496.47,238.40)" font-size="11.8" text-anchor="start" fill="#000" stroke="#000" stroke-width="0.2">T</text>
<text transform="translate(223.80,264.60)" font-size="13.4" text-anchor="start" fill="#000" font-weight="bold">E</text>
<line x1="248.80" y1="256.90" x2="248.80" y2="331.00" stroke="#000" stroke-width="1.45"/>
<line x1="248.10" y1="330.30" x2="359.10" y2="330.30" stroke="#000" stroke-width="1.45"/>
<line x1="246.00" y1="330.30" x2="248.80" y2="330.30" stroke="#000" stroke-width="1.0"/>
<text transform="translate(245.90,332.20)" font-size="5.4" text-anchor="end" fill="#222" stroke="#222" stroke-width="0.2">0.0</text>
<line x1="246.00" y1="312.10" x2="248.80" y2="312.10" stroke="#000" stroke-width="1.0"/>
<text transform="translate(245.90,314.00)" font-size="5.4" text-anchor="end" fill="#222" stroke="#222" stroke-width="0.2">0.5</text>
<line x1="246.00" y1="293.90" x2="248.80" y2="293.90" stroke="#000" stroke-width="1.0"/>
<text transform="translate(245.90,295.80)" font-size="5.4" text-anchor="end" fill="#222" stroke="#222" stroke-width="0.2">1.0</text>
<line x1="246.00" y1="275.70" x2="248.80" y2="275.70" stroke="#000" stroke-width="1.0"/>
<text transform="translate(245.90,277.60)" font-size="5.4" text-anchor="end" fill="#222" stroke="#222" stroke-width="0.2">1.5</text>
<line x1="246.00" y1="257.50" x2="248.80" y2="257.50" stroke="#000" stroke-width="1.0"/>
<text transform="translate(245.90,259.40)" font-size="5.4" text-anchor="end" fill="#222" stroke="#222" stroke-width="0.2">2.0</text>
<line x1="276.20" y1="330.30" x2="276.20" y2="332.60" stroke="#000" stroke-width="0.9"/>
<line x1="331.50" y1="330.30" x2="331.50" y2="332.60" stroke="#000" stroke-width="0.9"/>
<line x1="258.00" y1="291.50" x2="294.80" y2="291.50" stroke="#333" stroke-width="1.0"/>
<line x1="266.40" y1="283.50" x2="285.80" y2="283.50" stroke="#333" stroke-width="1.0"/>
<line x1="266.40" y1="299.50" x2="285.80" y2="299.50" stroke="#333" stroke-width="1.0"/>
<line x1="276.50" y1="283.50" x2="276.50" y2="299.50" stroke="#333" stroke-width="1.0"/>
<circle cx="276.10" cy="268.40" r="1.5" fill="#000"/>
<circle cx="276.10" cy="294.00" r="1.5" fill="#000"/>
<circle cx="275.70" cy="302.60" r="1.5" fill="#000"/>
<circle cx="280.40" cy="301.40" r="1.5" fill="#000"/>
<rect x="313.0" y="328.6" width="37.70" height="2.00" fill="#222"/>
<circle cx="327.40" cy="328.70" r="1.5" fill="#000"/>
<circle cx="336.30" cy="328.70" r="1.5" fill="#000"/>
<text transform="translate(223.96,345.60)" font-size="11.7" text-anchor="start" fill="#000" stroke="#000" stroke-width="0.2">Donor</text>
<text transform="translate(262.16,346.00)" font-size="11.8" text-anchor="start" fill="#000" stroke="#000" stroke-width="0.2">NIK</text>
<text transform="translate(281.83,342.00)" font-size="7.8" text-anchor="start" fill="#000" stroke="#000" stroke-width="0.2">+/+</text>
<text transform="translate(293.11,346.00)" font-size="11.8" text-anchor="start" fill="#000" stroke="#000" stroke-width="0.2">T</text>
<text transform="translate(312.56,346.00)" font-size="11.8" text-anchor="start" fill="#000" stroke="#000" stroke-width="0.2">NIK</text>
<text transform="translate(332.23,342.00)" font-size="7.8" text-anchor="start" fill="#000" stroke="#000" stroke-width="0.2">&#8211;/&#8211;</text>
<text transform="translate(343.07,346.00)" font-size="11.8" text-anchor="start" fill="#000" stroke="#000" stroke-width="0.2">T</text>
<line x1="403.80" y1="255.20" x2="403.80" y2="329.90" stroke="#000" stroke-width="1.45"/>
<line x1="403.10" y1="329.20" x2="510.20" y2="329.20" stroke="#000" stroke-width="1.45"/>
<line x1="401.00" y1="329.20" x2="403.80" y2="329.20" stroke="#000" stroke-width="1.0"/>
<text transform="translate(400.90,331.10)" font-size="5.4" text-anchor="end" fill="#222" stroke="#222" stroke-width="0.2">0.0</text>
<line x1="401.00" y1="314.55" x2="403.80" y2="314.55" stroke="#000" stroke-width="1.0"/>
<text transform="translate(400.90,316.45)" font-size="5.4" text-anchor="end" fill="#222" stroke="#222" stroke-width="0.2">0.5</text>
<line x1="401.00" y1="299.90" x2="403.80" y2="299.90" stroke="#000" stroke-width="1.0"/>
<text transform="translate(400.90,301.80)" font-size="5.4" text-anchor="end" fill="#222" stroke="#222" stroke-width="0.2">1.0</text>
<line x1="401.00" y1="285.25" x2="403.80" y2="285.25" stroke="#000" stroke-width="1.0"/>
<text transform="translate(400.90,287.15)" font-size="5.4" text-anchor="end" fill="#222" stroke="#222" stroke-width="0.2">1.5</text>
<line x1="401.00" y1="270.60" x2="403.80" y2="270.60" stroke="#000" stroke-width="1.0"/>
<text transform="translate(400.90,272.50)" font-size="5.4" text-anchor="end" fill="#222" stroke="#222" stroke-width="0.2">2.0</text>
<line x1="401.00" y1="255.95" x2="403.80" y2="255.95" stroke="#000" stroke-width="1.0"/>
<text transform="translate(400.90,257.85)" font-size="5.4" text-anchor="end" fill="#222" stroke="#222" stroke-width="0.2">2.5</text>
<line x1="431.60" y1="329.20" x2="431.60" y2="331.50" stroke="#000" stroke-width="0.9"/>
<line x1="487.40" y1="329.20" x2="487.40" y2="331.50" stroke="#000" stroke-width="0.9"/>
<line x1="412.80" y1="283.50" x2="449.80" y2="283.50" stroke="#333" stroke-width="1.0"/>
<line x1="422.10" y1="274.50" x2="440.80" y2="274.50" stroke="#333" stroke-width="1.0"/>
<line x1="422.10" y1="292.50" x2="440.80" y2="292.50" stroke="#333" stroke-width="1.0"/>
<line x1="431.50" y1="274.50" x2="431.50" y2="292.50" stroke="#333" stroke-width="1.0"/>
<circle cx="431.40" cy="263.10" r="1.5" fill="#000"/>
<circle cx="431.40" cy="275.80" r="1.5" fill="#000"/>
<circle cx="435.70" cy="295.80" r="1.5" fill="#000"/>
<circle cx="431.10" cy="300.10" r="1.5" fill="#000"/>
<rect x="477.4" y="320.0" width="18.70" height="4.00" fill="#aaa"/>
<line x1="468.50" y1="322.50" x2="505.00" y2="322.50" stroke="#333" stroke-width="1.0"/>
<line x1="477.40" y1="320.50" x2="496.10" y2="320.50" stroke="#333" stroke-width="1.0"/>
<line x1="477.40" y1="323.50" x2="496.10" y2="323.50" stroke="#333" stroke-width="1.0"/>
<line x1="486.50" y1="320.50" x2="486.50" y2="323.50" stroke="#333" stroke-width="1.0"/>
<circle cx="486.80" cy="318.40" r="1.5" fill="#000"/>
<circle cx="486.80" cy="324.90" r="1.5" fill="#000"/>
<circle cx="491.30" cy="322.60" r="1.5" fill="#000"/>
<text transform="translate(384.36,344.40)" font-size="11.7" text-anchor="start" fill="#000" stroke="#000" stroke-width="0.2">Donor</text>
<text transform="translate(418.86,344.50)" font-size="11.8" text-anchor="start" fill="#000" stroke="#000" stroke-width="0.2">NIK</text>
<text transform="translate(438.53,340.50)" font-size="7.8" text-anchor="start" fill="#000" stroke="#000" stroke-width="0.2">+/+</text>
<text transform="translate(449.81,344.50)" font-size="11.8" text-anchor="start" fill="#000" stroke="#000" stroke-width="0.2">T</text>
<text transform="translate(469.66,344.50)" font-size="11.8" text-anchor="start" fill="#000" stroke="#000" stroke-width="0.2">NIK</text>
<text transform="translate(489.33,340.50)" font-size="7.8" text-anchor="start" fill="#000" stroke="#000" stroke-width="0.2">&#8211;/&#8211;</text>
<text transform="translate(500.17,344.50)" font-size="11.8" text-anchor="start" fill="#000" stroke="#000" stroke-width="0.2">T</text>
<text stroke="#000" stroke-width="0.2" transform="translate(242.00,90.00) rotate(-90)" font-size="10.4">IL-17A<tspan font-size="6.5" dy="-3.6">+</tspan><tspan dy="3.6">Cell (%)</tspan></text>
<text stroke="#000" stroke-width="0.2" transform="translate(390.40,89.60) rotate(-90)" font-size="10.4">IL-17A<tspan font-size="6.5" dy="-3.6">+</tspan><tspan dy="3.6">Cell (%)</tspan></text>
<text stroke="#000" stroke-width="0.2" transform="translate(237.00,220.00) rotate(-90)" font-size="10.6">CD4<tspan font-size="6.5" dy="-3.6">+</tspan><tspan dy="3.6">CD45</tspan><tspan font-size="6.5" dy="-3.6">+</tspan><tspan dy="3.6">( %)</tspan></text>
<text stroke="#000" stroke-width="0.2" transform="translate(390.80,220.30) rotate(-90)" font-size="10.6">CD4<tspan font-size="6.5" dy="-3.6">+</tspan><tspan dy="3.6">CD45</tspan><tspan font-size="6.5" dy="-3.6">+</tspan><tspan dy="3.6">( %)</tspan></text>
<text stroke="#000" stroke-width="0.2" transform="translate(233.4,307.5) rotate(-90)" font-size="9.8">IL-17A</text>
<text stroke="#000" stroke-width="0.2" transform="translate(388.3,303.8) rotate(-90)" font-size="9.8">IFN-<tspan font-size="6.6" dy="0.3">&#947;</tspan></text>
</svg>
</body></html>
